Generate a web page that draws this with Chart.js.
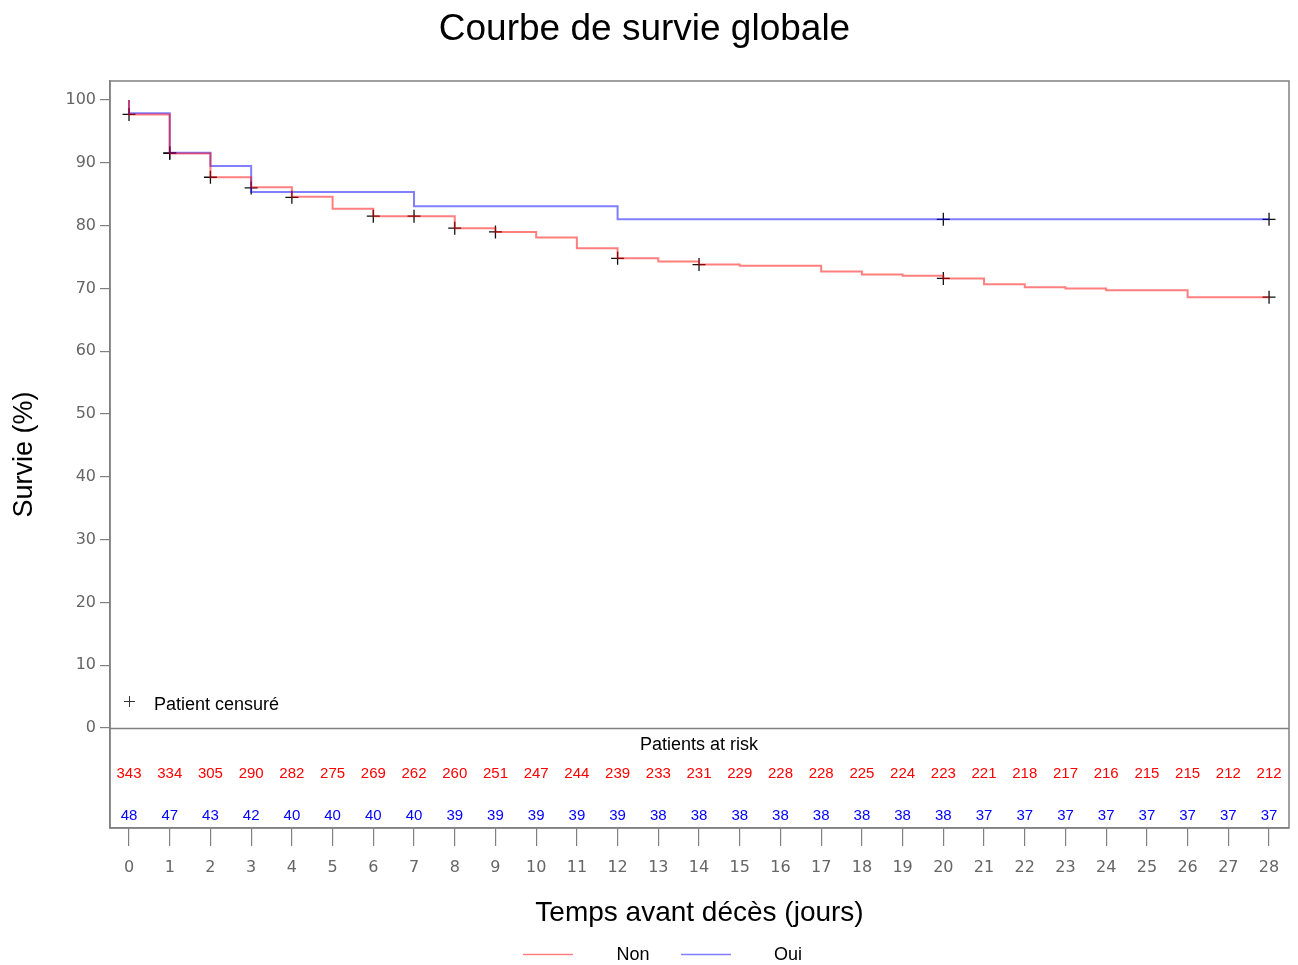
<!DOCTYPE html>
<html>
<head>
<meta charset="utf-8">
<script src="https://cdn.jsdelivr.net/npm/chart.js@4"></script>
<style>
  html, body { margin: 0; padding: 0; background: #fff; }
  #wrap { width: 1298px; height: 965px; }
</style>
</head>
<body>
<div id="wrap"><canvas id="survieChart"></canvas></div>
<script>
// courbe "Non"
const nonTimes = [0, 0, 1, 2, 3, 4, 5, 6, 8, 9, 10, 11, 12, 13, 14, 15, 17, 18, 19, 20, 21, 22, 23, 24, 26, 28];
const nonSurv = [100, 97.7, 91.5, 87.7, 86.1, 84.6, 82.7, 81.5, 79.6, 79.0, 78.1, 76.4, 74.8, 74.3, 73.8, 73.6, 72.7, 72.2, 72.0, 71.6, 70.65, 70.2, 70.0, 69.7, 68.6, 68.6];

// courbe "Oui"
const ouiTimes = [0, 0, 1, 2, 3, 7, 12, 28];
const ouiSurv = [100, 97.9, 91.6, 89.5, 85.35, 83.1, 81.0, 81.0];

// patients censurés
const censTimes = [0, 1, 1, 2, 3, 4, 6, 7, 8, 9, 12, 14, 20, 20, 28, 28];
const censSurv = [97.7, 91.5, 91.6, 87.7, 86.0, 84.5, 81.5, 81.5, 79.6, 79.0, 74.8, 73.8, 71.6, 81.0, 68.6, 81.0];

// patients at risk
const riskTimes = [0, 1, 2, 3, 4, 5, 6, 7, 8, 9, 10, 11, 12, 13, 14, 15, 16, 17, 18, 19, 20, 21, 22, 23, 24, 25, 26, 27, 28];
const riskNon = [343, 334, 305, 290, 282, 275, 269, 262, 260, 251, 247, 244, 239, 233, 231, 229, 228, 228, 225, 224, 223, 221, 218, 217, 216, 215, 215, 212, 212];
const riskOui = [48, 47, 43, 42, 40, 40, 40, 40, 39, 39, 39, 39, 39, 38, 38, 38, 38, 38, 38, 38, 38, 37, 37, 37, 37, 37, 37, 37, 37];

const yTicks = [0, 10, 20, 30, 40, 50, 60, 70, 80, 90, 100];
const xTicks = riskTimes;

const toPoints = (xs, ys) => xs.map((x, i) => ({ x: x, y: ys[i] }));

const redLine = 'rgba(255, 0, 0, 0.5)';
const blueLine = 'rgba(0, 0, 255, 0.5)';
const frameColor = '#808080';

const extras = {
  id: 'extras',
  afterDraw(chart) {
    const { ctx, chartArea } = chart;
    const xs = chart.scales.x;
    const ys = chart.scales.y;
    ctx.save();

    // cadre + ligne du zero
    ctx.strokeStyle = frameColor;
    ctx.lineWidth = 1.5;
    ctx.strokeRect(chartArea.left, chartArea.top, chartArea.right - chartArea.left, chartArea.bottom - chartArea.top);
    const y0 = Math.round(ys.getPixelForValue(0)) + 0.5;
    ctx.beginPath();
    ctx.moveTo(chartArea.left, y0);
    ctx.lineTo(chartArea.right, y0);
    ctx.stroke();

    // legende des censures
    ctx.strokeStyle = '#333';
    ctx.lineWidth = 1;
    ctx.beginPath();
    ctx.moveTo(124, 701.5); ctx.lineTo(135, 701.5);
    ctx.moveTo(129.5, 696); ctx.lineTo(129.5, 707);
    ctx.stroke();
    ctx.fillStyle = '#000';
    ctx.font = '18px "Liberation Sans", Arial, sans-serif';
    ctx.textBaseline = 'middle';
    ctx.textAlign = 'left';
    ctx.fillText('Patient censuré', 154, 705);

    // tableau des patients at risk
    ctx.textAlign = 'center';
    ctx.fillText('Patients at risk', xs.getPixelForValue(14), 745);
    ctx.font = '15px "Liberation Sans", Arial, sans-serif';
    riskTimes.forEach((t, i) => {
      const px = xs.getPixelForValue(t);
      ctx.fillStyle = '#ff0000';
      ctx.fillText(String(riskNon[i]), px, 774);
      ctx.fillStyle = '#0000ff';
      ctx.fillText(String(riskOui[i]), px, 816);
    });

    // legende du bas
    ctx.lineWidth = 1.5;
    ctx.strokeStyle = redLine;
    ctx.beginPath(); ctx.moveTo(523, 954.5); ctx.lineTo(573, 954.5); ctx.stroke();
    ctx.strokeStyle = blueLine;
    ctx.beginPath(); ctx.moveTo(681, 954.5); ctx.lineTo(731, 954.5); ctx.stroke();
    ctx.fillStyle = '#000';
    ctx.font = '18px "Liberation Sans", Arial, sans-serif';
    ctx.fillText('Non', 633, 955);
    ctx.fillText('Oui', 788, 955);

    ctx.restore();
  }
};

new Chart(document.getElementById('survieChart'), {
  type: 'line',
  data: {
    datasets: [{
      label: 'Non',
      data: toPoints(nonTimes, nonSurv),
      borderColor: redLine,
      borderWidth: 2,
      stepped: 'before',
      pointRadius: 0,
      fill: false
    }, {
      label: 'Oui',
      data: toPoints(ouiTimes, ouiSurv),
      borderColor: blueLine,
      borderWidth: 2,
      stepped: 'before',
      pointRadius: 0,
      fill: false
    }, {
      type: 'scatter',
      label: 'Patient censuré',
      data: toPoints(censTimes, censSurv),
      pointStyle: 'cross',
      pointRadius: 6.5,
      borderColor: '#111',
      borderWidth: 1.3,
      showLine: false
    }]
  },
  options: {
    responsive: true,
    maintainAspectRatio: false,
    animation: false,
    layout: { padding: { left: 0, right: 9, top: 0, bottom: 0 } },
    plugins: {
      legend: { display: false },
      tooltip: { enabled: false },
      title: {
        display: true,
        text: 'Courbe de survie globale',
        color: '#000',
        font: { family: '"Liberation Sans", Arial, sans-serif', size: 37, weight: 'normal', lineHeight: 1.2 },
        padding: { top: 7.8, bottom: 28.8 }
      }
    },
    scales: {
      x: {
        type: 'linear',
        min: -0.467,
        max: 28.49,
        afterBuildTicks: (s) => { s.ticks = xTicks.map(v => ({ value: v })); },
        afterFit: (s) => { s.height = 137; },
        grid: { drawOnChartArea: false, tickLength: 18, color: frameColor, lineWidth: 1.2 },
        border: { color: frameColor, width: 1.5 },
        ticks: {
          autoSkip: false,
          maxRotation: 0,
          padding: 12,
          color: '#666',
          font: { family: '"DejaVu Sans", sans-serif', size: 16 }
        },
        title: {
          display: true,
          text: 'Temps avant décès (jours)',
          color: '#000',
          font: { family: '"Liberation Sans", Arial, sans-serif', size: 28, lineHeight: 1.2 },
          padding: { top: 0, bottom: 35.2 }
        }
      },
      y: {
        type: 'linear',
        min: -15.92,
        max: 103.03,
        afterBuildTicks: (s) => { s.ticks = yTicks.map(v => ({ value: v })); },
        afterFit: (s) => { s.width = 110; },
        grid: { drawOnChartArea: false, tickLength: 10, color: frameColor, lineWidth: 1.2 },
        border: { color: frameColor, width: 1.5 },
        ticks: {
          padding: 4,
          color: '#666',
          font: { family: '"DejaVu Sans", sans-serif', size: 16 }
        },
        title: {
          display: true,
          text: 'Survie (%)',
          color: '#000',
          font: { family: '"Liberation Sans", Arial, sans-serif', size: 27, lineHeight: 1.2 },
          padding: { top: 8.8, bottom: 0 }
        }
      }
    }
  },
  plugins: [extras]
});
</script>
</body>
</html>
